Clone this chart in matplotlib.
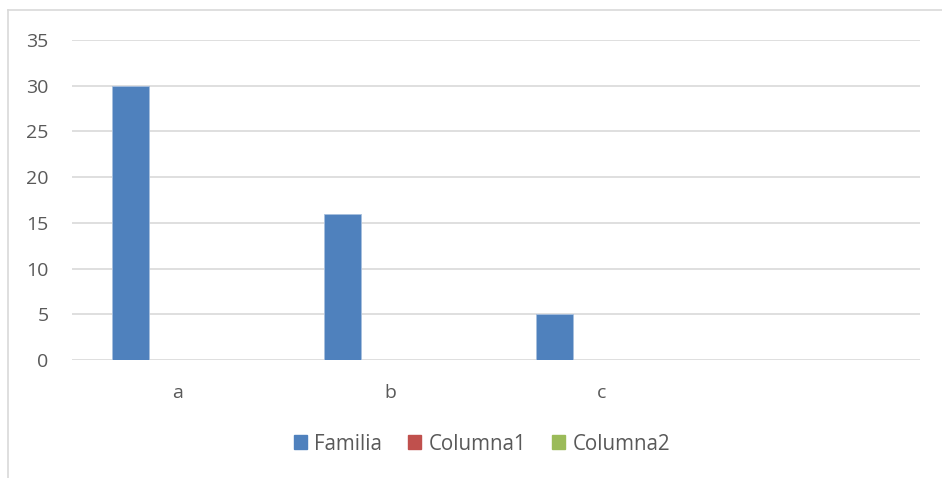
import matplotlib.pyplot as plt
from matplotlib.lines import Line2D
from matplotlib.patches import Patch
import numpy as np

categories = ['a', 'b', 'c', '']
familia = [30, 16, 5, 0]
columna1 = [0, 0, 0, 0]
columna2 = [0, 0, 0, 0]

series_names = ['Familia', 'Columna1', 'Columna2']
colors = ['#4f81bd', '#c0504d', '#9bbb59']

plt.rcParams['font.family'] = ['Open Sans', 'DejaVu Sans']
text_color = '#595959'

fig = plt.figure(figsize=(9.42, 4.78), dpi=100)
ax = fig.add_axes([72 / 942, 1 - 360 / 478, 848 / 942, 320 / 478])

x = np.arange(len(categories))
width = 0.175
offsets = [-0.223, -0.048, 0.127]
for vals, off, col in zip([familia, columna1, columna2], offsets, colors):
    ax.bar(x + off, vals, width, color=col, edgecolor='#a7bfde', linewidth=0.6, zorder=3)

ax.set_xlim(-0.5, len(categories) - 0.5)
ax.set_ylim(0, 35)
ax.set_yticks(range(0, 36, 5))
ax.set_xticks(x)
ax.set_xticklabels(categories)
ax.grid(axis='y', color='#d9d9d9', linewidth=1.2, zorder=0)
for s in ax.spines.values():
    s.set_visible(False)
ax.tick_params(length=0, labelsize=14, labelcolor=text_color)
ax.tick_params(axis='x', pad=17)
ax.tick_params(axis='y', pad=17)

handles = [Patch(color=c, label=n) for c, n in zip(colors, series_names)]
fig.legend(handles=handles, loc='center', bbox_to_anchor=(482 / 942, 1 - 444 / 478), ncol=3,
           frameon=False, fontsize=14.8, labelcolor=text_color, handlelength=0.65,
           handleheight=0.65, handletextpad=0.35, columnspacing=1.25)

# chart frame (top and left edges)
fig.add_artist(Line2D([8 / 942, 1], [1 - 10 / 478, 1 - 10 / 478], color='#d9d9d9', linewidth=1.2))
fig.add_artist(Line2D([8 / 942, 8 / 942], [0, 1 - 10 / 478], color='#d9d9d9', linewidth=1.2))

fig.savefig('out.png', dpi=100)
